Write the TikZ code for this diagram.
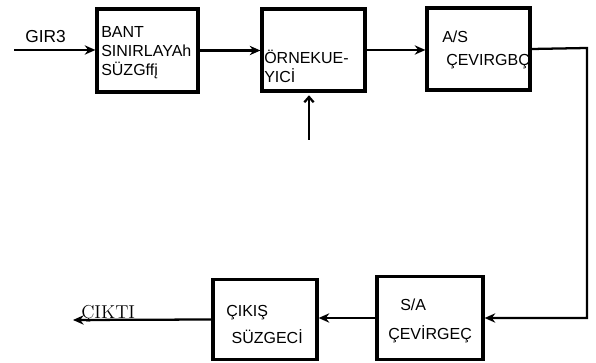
\documentclass[tikz,border=0pt]{standalone}
\usepackage{fontspec}
\setsansfont{Liberation Sans}
\usetikzlibrary{arrows.meta, positioning}
\tikzset{
  blok/.style={
    draw,
    line width=2.4pt,
    inner sep=0pt
  },
  yazi/.style={
    font=\sffamily\fontsize{12}{14.25}\selectfont,
    align=left,
    inner sep=0pt,
    anchor=west
  },
  hat/.style={
    line width=1.7pt
  },
  ok/.style={
    hat,
    -{Stealth[length=8pt, width=7pt]}
  },
  acikok/.style={
    hat,
    -{Straight Barb[length=4pt, width=7pt]},
    shorten >=2pt
  }
}

\begin{document}
\begin{tikzpicture}[x=0.75pt, y=-0.75pt]
  \useasboundingbox (0,0) rectangle (596,363);

  % bloklar
  \node[blok, minimum width=75.75pt, minimum height=62.25pt] (bant) at (147.5,50.5) {};
  \node[blok, minimum width=77.25pt, minimum height=61.5pt] (ornek) at (313.5,50) {};
  \node[blok, minimum width=77.25pt, minimum height=61.5pt] (asc) at (478.5,49) {};
  \node[blok, minimum width=79.5pt, minimum height=62.25pt] (sac) at (430,318) {};
  \node[blok, minimum width=78pt, minimum height=60pt] (cikis) at (265,319.5) {};

  % yazilar
  \node[yazi] (bantyazi) at (101,53) {BANT\\SINIRLAYAh\\SÜZGffį};
  \node[yazi] (ornekyazi) at (264,66.5) {ÖRNEKUE-\\YICİ};
  \node[yazi] (ascyazi) at (442,50) {A/S\\[3pt]\hspace*{3pt}ÇEVIRGBÇ};
  \node[yazi] (sacyazi) at (388,321) {\hspace*{9pt}S/A\\[8pt]ÇEVİRGEÇ};
  \node[yazi] (cikisyazi) at (226,324.5) {ÇIKIŞ\\[6pt]\hspace*{4pt}SÜZGECİ};
  \node[font=\sffamily\fontsize{13}{15}\selectfont, anchor=base west, inner sep=0pt] (giryazi) at (25,43) {GIR3};
  \node[font=\rmfamily\fontsize{14}{16}\selectfont, anchor=base west, inner sep=0pt] (ciktiyazi) at (81,318) {ÇIKTI};

  % baglantilar
  \coordinate (giris) at (14,50);
  \coordinate (kose) at (587,48);
  \coordinate (cikti) at (73,320);
  \coordinate (kontrol) at (309,140);

  \draw[ok] (giris) -- (giris -| bant.west);
  \draw[ok] (bant.east) -- (bant.east -| ornek.west);
  \draw[ok] (ornek.east) -- (ornek.east -| asc.west);
  \draw[ok] (asc.east) -- (kose) |- (sac.east);
  \draw[ok] (sac.west) -- (sac.west -| cikis.east);
  \draw[ok] (cikis.west) -- (cikti);
  \draw[acikok] (kontrol) -- (kontrol |- ornek.south);
\end{tikzpicture}
\end{document}
